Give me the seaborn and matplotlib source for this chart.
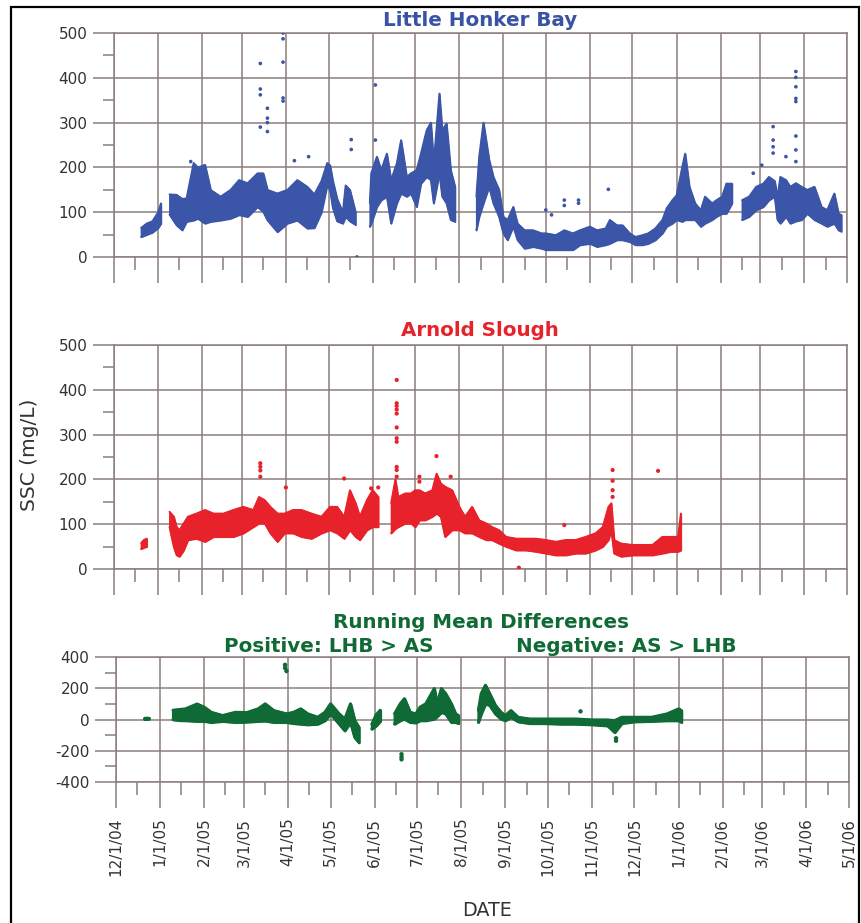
import numpy as np
import pandas as pd
import matplotlib
matplotlib.use("Agg")
import matplotlib.pyplot as plt
import matplotlib.dates as mdates
from matplotlib.ticker import MultipleLocator, FuncFormatter
from matplotlib.patches import Rectangle
import seaborn as sns

# ---------------- data ----------------
# Little Honker Bay: envelope of the dense 15-min record (date, low, high, segment)
lhb_date = ["2004-12-20", "2004-12-24", "2004-12-28", "2005-01-01", "2005-01-03",
            "2005-01-09", "2005-01-14", "2005-01-18", "2005-01-21", "2005-01-26", "2005-01-29",
            "2005-02-03", "2005-02-07", "2005-02-14", "2005-02-21", "2005-02-27", "2005-03-05",
            "2005-03-12", "2005-03-16", "2005-03-19", "2005-03-26", "2005-04-02", "2005-04-09",
            "2005-04-16", "2005-04-21", "2005-04-26", "2005-04-30", "2005-05-02", "2005-05-04",
            "2005-05-07", "2005-05-11", "2005-05-13", "2005-05-16", "2005-05-20",
            "2005-05-30", "2005-05-31", "2005-06-04", "2005-06-07", "2005-06-11", "2005-06-14",
            "2005-06-18", "2005-06-21", "2005-06-25", "2005-06-28", "2005-07-02", "2005-07-05",
            "2005-07-09", "2005-07-12", "2005-07-14", "2005-07-18", "2005-07-20", "2005-07-23",
            "2005-07-26", "2005-07-29",
            "2005-08-13", "2005-08-15", "2005-08-18", "2005-08-22", "2005-08-25", "2005-08-29",
            "2005-09-01", "2005-09-04", "2005-09-08", "2005-09-11", "2005-09-16", "2005-09-22",
            "2005-09-28", "2005-10-01", "2005-10-08", "2005-10-14", "2005-10-20", "2005-10-25",
            "2005-11-01", "2005-11-06", "2005-11-12", "2005-11-15", "2005-11-20", "2005-11-24",
            "2005-11-29", "2005-12-03", "2005-12-08", "2005-12-12", "2005-12-17", "2005-12-22",
            "2005-12-25", "2005-12-29", "2006-01-01", "2006-01-05", "2006-01-07", "2006-01-10",
            "2006-01-14", "2006-01-18", "2006-01-21", "2006-01-26", "2006-01-29", "2006-02-02",
            "2006-02-05", "2006-02-09",
            "2006-02-16", "2006-02-21", "2006-02-26", "2006-03-03", "2006-03-07", "2006-03-11",
            "2006-03-13", "2006-03-15", "2006-03-19", "2006-03-22", "2006-03-26", "2006-03-30",
            "2006-04-03", "2006-04-08", "2006-04-13", "2006-04-17", "2006-04-22", "2006-04-25",
            "2006-04-27"]
lhb_low = [45, 50, 55, 65, 75,
           95, 71, 60, 79, 82, 86, 75, 79, 82, 86, 94, 90, 112, 101, 82, 56, 75, 82, 64, 65,
           100, 160, 150, 110, 80, 75, 90, 80, 72,
           68, 75, 112, 127, 135, 75, 120, 142, 135, 142, 112, 164, 179, 172, 120, 187, 135,
           120, 83, 79,
           60, 90, 120, 157, 120, 90, 53, 38, 68, 38, 19, 23, 19, 16, 16, 16, 16, 27, 30, 23,
           27, 30, 38, 38, 34, 27, 27, 30, 38, 53, 68, 75, 83, 79, 83, 83, 83, 68, 75, 83, 90,
           97, 97, 120,
           83, 90, 105, 112, 127, 135, 83, 75, 90, 75, 80, 83, 97, 83, 75, 68, 75, 60, 57]
lhb_high = [65, 75, 80, 100, 120,
            140, 139, 130, 131, 210, 200, 206, 150, 135, 150, 172, 165, 187, 187, 150, 142,
            150, 172, 157, 140, 170, 210, 205, 170, 130, 100, 160, 150, 100,
            120, 187, 224, 194, 231, 172, 209, 261, 179, 187, 194, 231, 283, 300, 209, 365,
            283, 298, 194, 157,
            135, 224, 300, 217, 179, 150, 90, 83, 112, 75, 60, 60, 53, 53, 49, 60, 53, 60, 68,
            60, 64, 83, 71, 71, 53, 45, 49, 53, 64, 83, 109, 127, 138, 202, 231, 157, 120, 105,
            135, 120, 127, 135, 164, 164,
            127, 135, 157, 164, 179, 170, 135, 179, 172, 157, 165, 157, 150, 157, 112, 105,
            142, 97, 94]
lhb_seg = [1] * 5 + [2] * 29 + [3] * 20 + [4] * 44 + [5] * 19

# Little Honker Bay isolated spikes
lhb_spk_date = ["2005-01-24", "2005-03-14", "2005-03-14", "2005-03-14", "2005-03-14",
                "2005-03-19", "2005-03-19", "2005-03-19", "2005-03-19",
                "2005-03-30", "2005-03-30", "2005-03-30", "2005-03-30", "2005-03-30",
                "2005-04-07", "2005-04-17", "2005-05-17", "2005-05-17", "2005-05-21",
                "2005-06-03", "2005-06-03", "2005-10-01", "2005-10-05", "2005-10-14",
                "2005-10-14", "2005-10-24", "2005-10-24", "2005-11-14", "2006-02-24",
                "2006-03-02", "2006-03-10", "2006-03-10", "2006-03-10", "2006-03-10",
                "2006-03-19", "2006-03-26", "2006-03-26", "2006-03-26", "2006-03-26",
                "2006-03-26", "2006-03-26", "2006-03-26", "2006-03-26"]
lhb_spk_val = [213, 432, 375, 362, 290, 332, 310, 300, 280, 500, 487, 435, 355, 348,
               215, 224, 262, 240, 0, 384, 261, 105, 94, 127, 115, 127, 120, 151, 187,
               205, 291, 261, 246, 232, 224, 414, 401, 380, 354, 347, 270, 239, 213]

# Arnold Slough envelope
as_date = ["2004-12-20", "2004-12-22", "2004-12-24",
           "2005-01-09", "2005-01-12", "2005-01-14", "2005-01-16", "2005-01-19", "2005-01-22",
           "2005-01-28", "2005-02-03", "2005-02-09", "2005-02-16", "2005-02-23", "2005-03-02",
           "2005-03-09", "2005-03-13", "2005-03-17", "2005-03-21", "2005-03-26", "2005-03-31",
           "2005-04-06", "2005-04-12", "2005-04-19", "2005-04-26", "2005-05-02", "2005-05-07",
           "2005-05-12", "2005-05-16", "2005-05-20", "2005-05-23", "2005-05-28", "2005-06-01",
           "2005-06-05",
           "2005-06-14", "2005-06-17", "2005-06-19", "2005-06-24", "2005-06-28", "2005-07-01",
           "2005-07-04", "2005-07-08", "2005-07-13", "2005-07-16", "2005-07-19", "2005-07-22",
           "2005-07-27", "2005-08-01", "2005-08-05", "2005-08-10", "2005-08-15", "2005-08-20",
           "2005-08-24", "2005-08-29", "2005-09-03", "2005-09-10", "2005-09-17", "2005-09-24",
           "2005-10-01", "2005-10-08", "2005-10-15", "2005-10-22", "2005-10-29", "2005-11-05",
           "2005-11-10", "2005-11-14", "2005-11-16", "2005-11-18", "2005-11-23", "2005-12-01",
           "2005-12-08", "2005-12-15", "2005-12-22", "2005-12-28", "2006-01-02", "2006-01-04"]
as_low = [45, 48, 50,
          94, 50, 31, 28, 42, 65, 68, 61, 72, 72, 72, 80, 94, 102, 102, 80, 61, 80, 80, 72,
          68, 80, 87, 80, 68, 87, 72, 65, 87, 94, 94,
          80, 90, 94, 102, 102, 94, 109, 109, 117, 124, 117, 72, 87, 87, 80, 80, 72, 65, 65,
          57, 50, 42, 42, 39, 35, 31, 31, 35, 35, 42, 50, 65, 87, 35, 28, 31, 31, 31, 35, 39,
          39, 42]
as_high = [58, 65, 68,
           128, 117, 94, 87, 102, 117, 124, 132, 124, 124, 132, 139, 132, 161, 154, 139,
           124, 124, 132, 132, 124, 117, 139, 139, 117, 176, 147, 117, 154, 176, 161,
           147, 200, 161, 169, 169, 176, 176, 169, 176, 213, 191, 184, 176, 139, 117, 139,
           109, 102, 94, 87, 72, 68, 68, 68, 65, 61, 65, 65, 72, 80, 94, 139, 147, 65, 57,
           54, 54, 54, 72, 72, 72, 124]
as_seg = [1] * 3 + [2] * 31 + [3] * 42

as_spk_date = ["2005-03-14", "2005-03-14", "2005-03-14", "2005-03-14", "2005-04-01",
               "2005-05-12", "2005-05-31", "2005-06-05",
               "2005-06-18", "2005-06-18", "2005-06-18", "2005-06-18", "2005-06-18",
               "2005-06-18", "2005-06-18", "2005-06-18", "2005-06-18", "2005-06-18",
               "2005-06-18", "2005-07-04", "2005-07-04", "2005-07-16", "2005-07-26",
               "2005-09-12", "2005-10-14", "2005-11-17", "2005-11-17", "2005-11-17",
               "2005-11-17", "2005-12-19"]
as_spk_val = [236, 228, 220, 206, 182, 202, 180, 182,
              422, 370, 364, 356, 347, 316, 292, 284, 228, 221, 206,
              206, 195, 252, 206, 3, 98, 221, 197, 176, 161, 219]

# Running mean difference (LHB - AS) envelope
rmd_date = ["2004-12-21", "2004-12-24",
            "2005-01-10", "2005-01-15", "2005-01-19", "2005-01-27", "2005-02-01", "2005-02-06",
            "2005-02-14", "2005-02-23", "2005-03-03", "2005-03-11", "2005-03-16", "2005-03-22",
            "2005-03-31", "2005-04-05", "2005-04-10", "2005-04-15", "2005-04-22", "2005-04-27",
            "2005-05-01", "2005-05-07", "2005-05-11", "2005-05-15", "2005-05-18", "2005-05-21",
            "2005-05-30", "2005-06-02", "2005-06-05",
            "2005-06-15", "2005-06-19", "2005-06-22", "2005-06-26", "2005-06-30", "2005-07-03",
            "2005-07-07", "2005-07-13", "2005-07-15", "2005-07-18", "2005-07-21", "2005-07-25",
            "2005-07-28", "2005-07-30",
            "2005-08-13", "2005-08-15", "2005-08-18", "2005-08-21", "2005-08-25", "2005-08-29",
            "2005-09-01", "2005-09-05", "2005-09-10", "2005-09-18", "2005-09-29", "2005-10-10",
            "2005-10-21", "2005-11-01", "2005-11-12", "2005-11-17", "2005-11-22", "2005-12-01",
            "2005-12-13", "2005-12-24", "2006-01-01", "2006-01-03"]
rmd_low = [2, 3,
           0, -5, -6, -10, -10, -17, -10, -17, -15, -10, -8, -17, -17, -24, -28, -32, -28,
           -6, 37, -28, -71, -17, -114, -147,
           -60, -40, -10,
           -28, -6, 4, -17, -20, -6, -6, 4, 20, 47, 37, -17, -17, -24,
           -17, 37, 101, 91, 37, 4, -6, 15, -13, -24, -24, -28, -28, -32, -39, -82, -24, -13,
           -10, -6, -6, -17]
rmd_high = [12, 12,
            60, 65, 69, 100, 80, 47, 26, 47, 45, 69, 101, 58, 37, 47, 69, 37, 15, 47, 101,
            37, 4, 101, -6, -50,
            -30, 30, 60,
            37, 101, 134, 47, 37, 80, 101, 199, 101, 199, 166, 101, 37, 26,
            58, 166, 220, 166, 91, 47, 26, 58, 15, 4, 4, 4, 4, -2, -2, -6, 15, 15, 15, 37, 69,
            58]
rmd_seg = [1] * 2 + [2] * 24 + [3] * 3 + [4] * 14 + [5] * 22

rmd_spk_date = ["2005-03-30", "2005-03-30", "2005-03-31", "2005-06-20", "2005-06-20",
                "2005-06-20", "2005-10-24", "2005-11-18", "2005-11-18"]
rmd_spk_val = [350, 330, 310, -222, -240, -255, 52, -136, -120]

# ---------------- styling ----------------
sns.set_theme(style="white")
plt.rcParams["font.family"] = ["DejaVu Sans"]
plt.rcParams["axes.unicode_minus"] = False

W, H = 862, 923
GRID = "#8a7f7b"
BLUE, RED, GREEN = "#3b56a8", "#e8222a", "#0f6a35"
TXT = "#333333"
PX = 0.72  # points per pixel at 100 dpi

fig = plt.figure(figsize=(W / 100, H / 100), dpi=100)


def rect(l, r, t, b):
    return [l / W, 1 - b / H, (r - l) / W, (b - t) / H]


def frame(name, dates, low, high, seg):
    return pd.DataFrame({"date": pd.to_datetime(dates), "low": low, "high": high,
                         "seg": seg, "name": name})


def style_axes(ax, ylim, major, minor, show_x):
    ax.set_xlim(pd.Timestamp("2004-12-01"), pd.Timestamp("2006-05-01"))
    ax.set_ylim(*ylim)
    ax.xaxis.set_major_locator(mdates.MonthLocator())
    ax.xaxis.set_minor_locator(mdates.MonthLocator(bymonthday=16))
    ax.yaxis.set_major_locator(MultipleLocator(major))
    ax.yaxis.set_minor_locator(MultipleLocator(minor))
    ax.grid(True, which="major", color=GRID, lw=1.1)
    ax.set_axisbelow(True)
    for s in ax.spines.values():
        s.set_color(GRID)
        s.set_linewidth(1.1)
    ax.tick_params(which="both", bottom=True, left=True, top=False, right=False)
    ax.tick_params(axis="x", which="major", direction="out", length=26 * PX, width=1.1,
                   color=GRID, labelsize=11, labelcolor=TXT, pad=7, rotation=90)
    ax.tick_params(axis="x", which="minor", direction="out", length=13 * PX, width=1.1,
                   color=GRID)
    ax.tick_params(axis="y", which="major", direction="out", length=21 * PX, width=1.1,
                   color=GRID, labelsize=11, labelcolor=TXT, pad=4)
    ax.tick_params(axis="y", which="minor", direction="out", length=11 * PX, width=1.1,
                   color=GRID)
    ax.yaxis.set_major_formatter(FuncFormatter(lambda v, p: f"{int(v)}"))
    if show_x:
        ax.xaxis.set_major_formatter(
            FuncFormatter(lambda v, p: (lambda d: f"{d.month}/{d.day}/{d:%y}")(mdates.num2date(v))))
    else:
        ax.tick_params(axis="x", labelbottom=False)
    ax.set_xlabel("")
    ax.set_ylabel("")


def draw(ax, df, sdates, svals, color, lw, size):
    for s, sub in df.groupby("seg"):
        ax.fill_between(sub["date"], sub["low"], sub["high"], color=color, lw=lw,
                        edgecolor=color, zorder=3)
    sns.lineplot(data=df, x="date", y="high", units="seg", estimator=None, color=color,
                 lw=lw, ax=ax, zorder=3)
    sns.lineplot(data=df, x="date", y="low", units="seg", estimator=None, color=color,
                 lw=lw, ax=ax, zorder=3)
    spk = pd.DataFrame({"date": pd.to_datetime(sdates), "val": svals})
    sns.scatterplot(data=spk, x="date", y="val", color=color, s=size, edgecolor="none",
                    ax=ax, zorder=4)


lhb = frame("LHB", lhb_date, lhb_low, lhb_high, lhb_seg)
asl = frame("AS", as_date, as_low, as_high, as_seg)
rmd = frame("RMD", rmd_date, rmd_low, rmd_high, rmd_seg)

ax1 = fig.add_axes(rect(114, 847, 33, 257))
draw(ax1, lhb, lhb_spk_date, lhb_spk_val, BLUE, 1.2, 7)
style_axes(ax1, (0, 500), 100, 50, False)

ax2 = fig.add_axes(rect(114, 847, 345, 569))
draw(ax2, asl, as_spk_date, as_spk_val, RED, 1.2, 9)
style_axes(ax2, (0, 500), 100, 50, False)

ax3 = fig.add_axes(rect(116, 849, 657, 782))
draw(ax3, rmd, rmd_spk_date, rmd_spk_val, GREEN, 2.0, 10)
style_axes(ax3, (-400, 400), 200, 100, True)

# ---------------- texts ----------------
def ftext(x, y, s, **kw):
    fig.text(x / W, 1 - y / H, s, ha="center", va="center", **kw)


TFS = 14.3
ftext(480, 20, "Little Honker Bay", color="#3953a4", fontsize=TFS, fontweight="bold")
ftext(480, 331, "Arnold Slough", color=RED, fontsize=TFS, fontweight="bold")
ftext(481, 622, "Running Mean Differences", color=GREEN, fontsize=TFS, fontweight="bold")
ftext(329, 647, "Positive: LHB > AS", color=GREEN, fontsize=TFS, fontweight="bold")
ftext(626, 647, "Negative: AS > LHB", color=GREEN, fontsize=TFS, fontweight="bold")
ftext(30, 455, "SSC (mg/L)", color=TXT, fontsize=14.5, rotation=90)
ftext(487, 910, "DATE", color=TXT, fontsize=13.8)

# outer frame of the figure
fig.add_artist(Rectangle((11 / W, -0.02), (859 - 11) / W, 1.02 - 7 / H,
                         transform=fig.transFigure, fill=False, ec="black", lw=1.6))

fig.savefig("out.png", dpi=100)
